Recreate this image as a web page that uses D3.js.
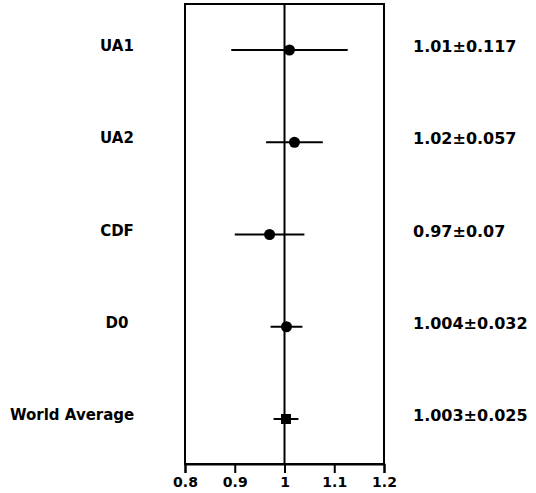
<!DOCTYPE html>
<html><head><meta charset="utf-8">
<script src="https://cdn.jsdelivr.net/npm/d3@7"></script>
<style>body{margin:0;background:#fff}svg{display:block}</style>
</head><body>
<svg id="c" width="536" height="493"></svg>
<script>
const categories = ["UA1", "UA2", "CDF", "D0", "World Average"];
const values = [1.01, 1.02, 0.97, 1.004, 1.003];
const errors = [0.117, 0.057, 0.07, 0.032, 0.025];
const valueLabels = ["1.01\u00b10.117", "1.02\u00b10.057", "0.97\u00b10.07", "1.004\u00b10.032", "1.003\u00b10.025"];
const xTicks = [0.8, 0.9, 1.0, 1.1, 1.2];
const refValue = 1.0;

(function () {
const svg = d3.select("#c");
const font = "DejaVu Sans";
const x = d3.scaleLinear().domain([0.8, 1.2]).range([185, 384]);
const y = d3.scalePoint().domain(categories).range([50, 419]);
const frameTop = 4, frameBottom = 464;
const last = categories.length - 1;

// frame
svg.append("rect").attr("x", x(0.8)).attr("y", frameTop)
  .attr("width", x(1.2) - x(0.8)).attr("height", frameBottom - frameTop)
  .attr("fill", "none").attr("stroke", "#000").attr("stroke-width", 2);

// bottom axis
const ax = svg.append("g").attr("transform", `translate(0,${frameBottom})`)
  .call(d3.axisBottom(x).tickValues(xTicks).tickSize(9).tickPadding(4)
    .tickFormat(d => d === 1 ? "1" : d3.format(".1f")(d)));
ax.select(".domain").attr("stroke-width", 2);
ax.selectAll(".tick line").attr("stroke-width", 2);
ax.selectAll(".tick text").attr("font-family", font).attr("font-weight", "bold")
  .attr("font-size", 14).attr("fill", "#000");

// reference line
svg.append("line").attr("x1", x(refValue)).attr("x2", x(refValue))
  .attr("y1", frameTop).attr("y2", frameBottom).attr("stroke", "#000").attr("stroke-width", 2);

const rows = categories.map((c, i) => ({c, v: values[i], e: errors[i], lab: valueLabels[i], i}));

// error bars
svg.selectAll(".eb").data(rows).enter().append("line")
  .attr("x1", d => x(d.v - d.e)).attr("x2", d => x(d.v + d.e))
  .attr("y1", d => y(d.c)).attr("y2", d => y(d.c))
  .attr("stroke", "#000").attr("stroke-width", 2);

// markers
rows.forEach(d => {
  if (d.i === last) {
    svg.append("rect").attr("x", x(d.v) - 5).attr("y", y(d.c) - 5)
      .attr("width", 10).attr("height", 10).attr("fill", "#000");
  } else {
    svg.append("circle").attr("cx", x(d.v)).attr("cy", y(d.c)).attr("r", 5.5).attr("fill", "#000");
  }
});

// left labels
svg.selectAll(".cl").data(rows).enter().append("text")
  .attr("font-family", font).attr("font-weight", "bold").attr("font-size", 15)
  .attr("text-anchor", d => d.i === last ? "start" : "middle")
  .attr("x", d => d.i === last ? 10 : 117)
  .attr("y", d => y(d.c) + 1)
  .text(d => d.c);

// right labels
svg.selectAll(".vl").data(rows).enter().append("text")
  .attr("font-family", font).attr("font-weight", "bold").attr("font-size", 16)
  .attr("x", 413).attr("y", d => y(d.c) + 2)
  .text(d => d.lab);
})();
</script>
</body></html>
